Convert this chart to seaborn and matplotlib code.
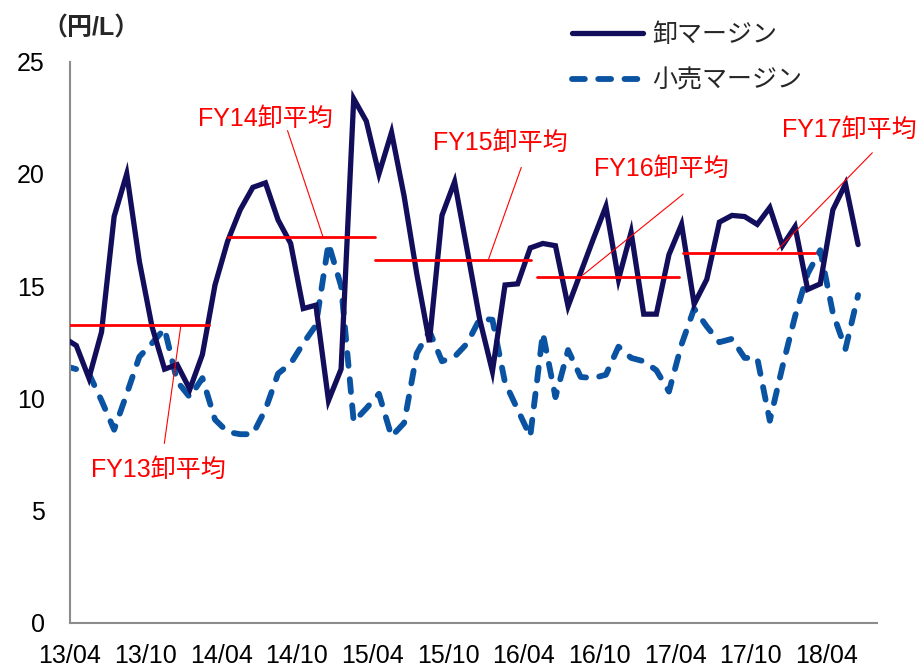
import numpy as np
import pandas as pd
import matplotlib
matplotlib.use("Agg")
import matplotlib.pyplot as plt
import seaborn as sns

# ===== データ (月次, 0 = 13/04, 13/03 〜 18/06) =====
month_idx = np.arange(-1, 63)

wholesale = [12.7, 12.35, 10.9, 12.95, 18.1, 20.0, 16.1, 13.2, 11.3, 11.5,
             10.4, 11.95, 15.05, 17.0, 18.4, 19.4, 19.6, 17.95, 16.9, 14.0,
             14.15, 9.9, 11.3, 23.35, 22.35, 20.0, 21.85, 19.0, 15.55, 12.5,
             18.15, 19.65, 16.6, 13.5, 11.2, 15.05, 15.1, 16.7, 16.9, 16.8,
             14.1, 15.6, 17.1, 18.55, 15.3, 17.4, 13.75, 13.75, 16.4, 17.75,
             14.2, 15.3, 17.85, 18.15, 18.1, 17.75, 18.5, 16.8, 17.65, 14.85,
             15.1, 18.4, 19.55, 16.85]

retail = [11.45, 11.3, 11.1, 9.9, 8.6, 10.2, 11.85, 12.45, 13.1, 10.75,
          10.05, 10.9, 9.05, 8.5, 8.4, 8.4, 9.5, 11.1, 11.55, 12.45,
          13.25, 16.9, 15.0, 8.95, 9.55, 10.2, 8.3, 8.9, 12.0, 13.0,
          11.65, 11.85, 12.45, 13.55, 13.5, 10.7, 9.5, 8.3, 12.9, 10.05,
          12.15, 10.95, 10.9, 11.05, 12.3, 11.8, 11.65, 11.25, 10.3, 12.4,
          14.0, 13.2, 12.5, 12.65, 11.8, 11.8, 9.0, 11.4, 13.65, 15.55,
          16.6, 13.8, 12.2, 14.6]

tick_labels = ["13/04", "13/10", "14/04", "14/10", "15/04", "15/10",
               "16/04", "16/10", "17/04", "17/10", "18/04"]

# 年度平均 (卸)
fy_names = ["FY13卸平均", "FY14卸平均", "FY15卸平均", "FY16卸平均", "FY17卸平均"]
fy_avg = [13.27, 17.17, 16.15, 15.42, 16.46]
fy_start = [-0.25, 12.55, 24.2, 37.05, 48.65]
fy_end = [11.0, 24.15, 36.55, 48.3, 59.05]

NAVY = "#130E5B"
BLUE = "#0A53A2"
RED = "#FF0000"
GREY = "#8C8C8C"

df = pd.DataFrame({
    "month": month_idx + 0.5,   # 月中にプロット
    "wholesale": wholesale,
    "retail": retail,
})

sns.set_style("white")
plt.rcParams["font.family"] = ["Liberation Sans", "Noto Sans CJK JP", "DejaVu Sans"]
plt.rcParams["font.size"] = 18

fig = plt.figure(figsize=(9.22, 6.68), dpi=100)
ax = fig.add_axes([70 / 922, 1 - 622.7 / 668, (877 - 70) / 922, (622.7 - 61.7) / 668])

sns.lineplot(data=df, x="month", y="wholesale", ax=ax, color=NAVY, lw=3.8,
             label="卸マージン", solid_joinstyle="miter", zorder=3)
sns.lineplot(data=df, x="month", y="retail", ax=ax, color=BLUE, lw=4.2,
             linestyle=(0, (2.2, 2.3)), dash_capstyle="round",
             label="小売マージン", zorder=2)

# 年度平均ライン
for s, e, v in zip(fy_start, fy_end, fy_avg):
    ax.plot([s, e], [v, v], color=RED, lw=2.0, zorder=4)

# 注記 (ラベルと引き出し線)
label_pos = [(6.98, 6.8), (15.5, 22.45), (34.1, 21.38), (46.9, 20.2), (61.8, 21.98)]
leader_from = [(7.48, 7.99), (17.25, 21.93), (35.79, 20.29), (48.63, 19.1), (63.63, 20.94)]
leader_to = [(8.79, 13.24), (20.06, 17.2), (33.2, 16.21), (40.69, 15.5), (56.09, 16.61)]
for name, p, a, b in zip(fy_names, label_pos, leader_from, leader_to):
    ax.text(p[0], p[1], name, color=RED, ha="center", va="center",
            fontsize=18, clip_on=False, zorder=5)
    ax.plot([a[0], b[0]], [a[1], b[1]], color=RED, lw=0.8, clip_on=False, zorder=5)

ax.set_xlim(0, 64)
ax.set_ylim(0, 25)
ax.set_xticks(np.arange(0, 61, 6))
ax.set_xticklabels(tick_labels)
ax.set_yticks(np.arange(0, 26, 5))
ax.set_xlabel("")
ax.set_ylabel("")

for side in ["top", "right"]:
    ax.spines[side].set_visible(False)
for side in ["left", "bottom"]:
    ax.spines[side].set_color(GREY)
    ax.spines[side].set_linewidth(1.5)

ax.tick_params(axis="both", which="both", direction="out", length=6, width=1.5,
               color=GREY, labelsize=18, labelcolor="black")
ax.tick_params(axis="y", pad=12)
ax.tick_params(axis="x", pad=9)
ax.set_xticks([], minor=True)

fig.text(42 / 922, 1 - 29 / 668, "（円/L）", fontsize=18, fontweight="bold",
         ha="left", va="center")

ax.legend(loc="upper left", bbox_to_anchor=(572 / 922, 1 - 23 / 668),
          bbox_transform=fig.transFigure, frameon=False, fontsize=18,
          handlelength=2.85, handletextpad=0.35, labelspacing=0.85,
          borderpad=0, borderaxespad=0)

fig.savefig("out.png", dpi=100)
